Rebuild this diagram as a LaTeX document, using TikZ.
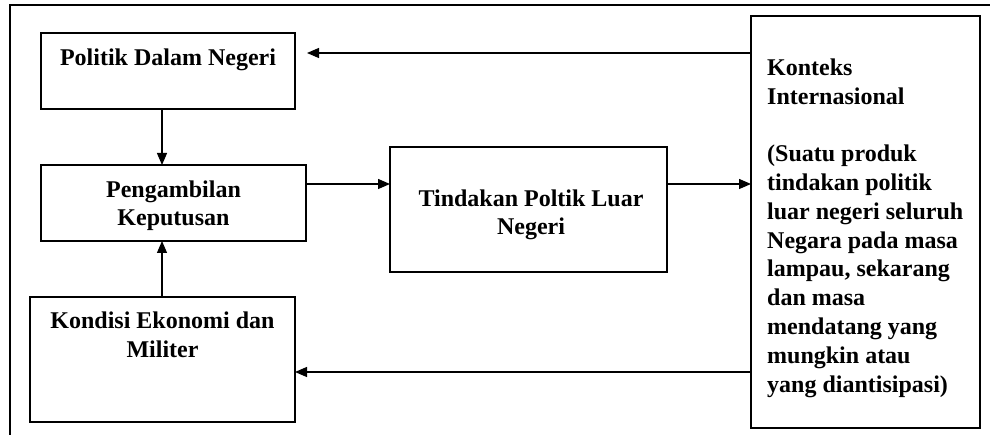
\documentclass[tikz,border=0pt]{standalone}
\usepackage{fontspec}
\setmainfont{Liberation Serif}
\usetikzlibrary{arrows.meta}
\begin{document}
\begin{tikzpicture}[x=1pt,y=-1pt,
  box/.style={draw,line width=1.3pt,inner sep=0pt,outer sep=0pt},
  lbl/.style={font=\bfseries\fontsize{24}{28.8}\selectfont,inner sep=0pt},
  arr/.style={line width=1.3pt,-{Triangle[length=12pt,width=10pt]}}]
\useasboundingbox (0,0) rectangle (990,435);
% open outer frame (top and left edges only)
\draw[line width=2pt] (990,5) -- (10,5) -- (10,435);

% boxes
\node[box,minimum width=254,minimum height=76] (pol) at (168,71) {};
\node[box,minimum width=265,minimum height=76] (pen) at (173.5,203) {};
\node[box,minimum width=265,minimum height=125] (kon) at (162.5,359.5) {};
\node[box,minimum width=277,minimum height=125] (tin) at (528.5,209.5) {};
\node[box,minimum width=229,minimum height=412] (ctx) at (865.5,222) {};

% labels (base anchor sits on the last line of a multi-line label)
\node[lbl,anchor=base] (polt) at (168,66) {Politik Dalam Negeri};
\node[lbl,anchor=base,align=center] (pent) at (173.5,226) {Pengambilan\\Keputusan};
\node[lbl,anchor=base,align=center] (kont) at (162.5,357) {Kondisi Ekonomi dan\\Militer};
\node[lbl,anchor=base,align=center] (tint) at (531,235) {Tindakan Poltik Luar\\Negeri};
\node[lbl,anchor=base west,align=left] (ctxt) at (767,392) {Konteks\\Internasional\\[28.8pt](Suatu produk\\tindakan politik\\luar negeri seluruh\\Negara pada masa\\lampau, sekarang\\dan masa\\mendatang yang\\mungkin atau\\yang diantisipasi)};

% connectors
\coordinate (vx) at (162,0);
\coordinate (hy) at (0,184);
\coordinate (pe) at (307,53);
\coordinate (ky) at (0,372);
\draw[arr] (vx |- pol.south) -- (vx |- pen.north);
\draw[arr] (vx |- kon.north) -- (vx |- pen.south);
\draw[arr] (pen.east |- hy) -- (tin.west |- hy);
\draw[arr] (tin.east |- hy) -- (ctx.west |- hy);
\draw[arr] (ctx.west |- pe) -- (pe);
\draw[arr] (ctx.west |- ky) -- (kon.east |- ky);
\end{tikzpicture}
\end{document}
